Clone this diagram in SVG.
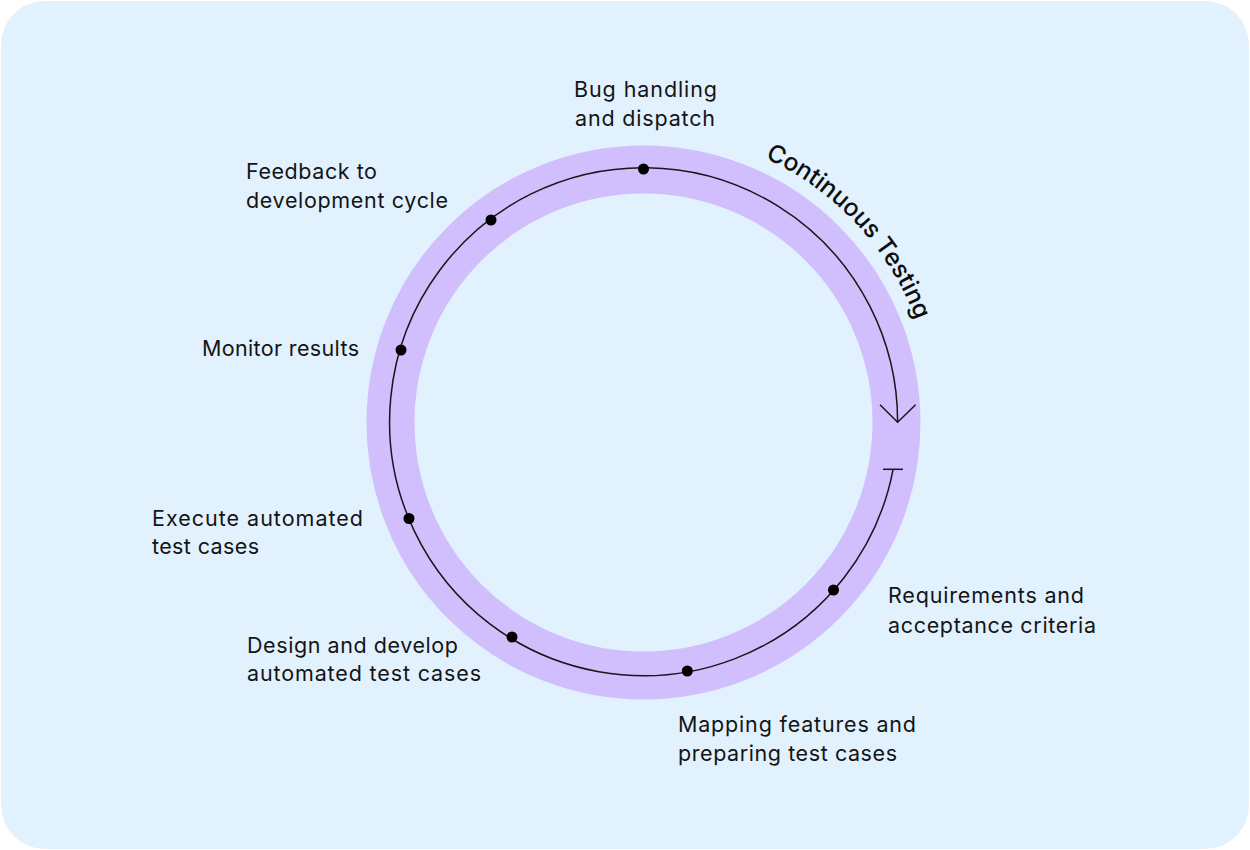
<svg xmlns="http://www.w3.org/2000/svg" width="1250" height="850" viewBox="0 0 1250 850">
<defs>
<style>
.lbl{font-family:Inter,"Noto Sans","Liberation Sans",sans-serif;font-size:21.5px;fill:#141414;}
.title{font-family:Inter,"Noto Sans","Liberation Sans",sans-serif;font-size:24.5px;font-weight:500;fill:#0d0d0d;}
.dot{fill:#000;}
.ln{fill:none;stroke:#1c1418;stroke-width:1.5;}
</style>
<path id="titleArc" d="M 728.8 144.3 A 291 291 0 0 1 927.1 357.3"/>
</defs>
<rect x="0" y="0" width="1250" height="850" fill="#ffffff"/>
<rect x="1" y="1" width="1248" height="848" rx="44" ry="44" fill="#e2f1fe"/>
<g id="ring">
<circle cx="643.5" cy="422.5" r="253" fill="none" stroke="#d1bffd" stroke-width="48"/>
</g>
<g id="title">
<text class="title"><textPath href="#titleArc" startOffset="50%" text-anchor="middle">Continuous Testing</textPath></text>
</g>
<g id="connectors">
<path class="ln" d="M 893.1 469.3 A 254 254 0 1 1 897.6 422.5"/>
<line class="ln" x1="883" y1="469.3" x2="903" y2="469.3"/>
<polyline class="ln" points="880,404.7 897.6,422.3 915.6,404.7"/>
</g>
<g id="node-bug">
<circle class="dot" cx="643.5" cy="169" r="5.5"/>
<text class="lbl" x="574" y="97" textLength="143" lengthAdjust="spacing">Bug handling</text>
<text class="lbl" x="575" y="126" textLength="140" lengthAdjust="spacing">and dispatch</text>
</g>
<g id="node-feedback">
<circle class="dot" cx="491" cy="220" r="5.5"/>
<text class="lbl" x="246" y="179" textLength="131" lengthAdjust="spacing">Feedback to</text>
<text class="lbl" x="246" y="207.5" textLength="202" lengthAdjust="spacing">development cycle</text>
</g>
<g id="node-monitor">
<circle class="dot" cx="401" cy="350" r="5.5"/>
<text class="lbl" x="202" y="356" textLength="157" lengthAdjust="spacing">Monitor results</text>
</g>
<g id="node-execute">
<circle class="dot" cx="409" cy="518.5" r="5.5"/>
<text class="lbl" x="152" y="526" textLength="211" lengthAdjust="spacing">Execute automated</text>
<text class="lbl" x="152" y="554.3" textLength="107" lengthAdjust="spacing">test cases</text>
</g>
<g id="node-design">
<circle class="dot" cx="512" cy="637" r="5.5"/>
<text class="lbl" x="247" y="652.5" textLength="211" lengthAdjust="spacing">Design and develop</text>
<text class="lbl" x="247" y="681" textLength="234" lengthAdjust="spacing">automated test cases</text>
</g>
<g id="node-mapping">
<circle class="dot" cx="687.3" cy="671" r="5.5"/>
<text class="lbl" x="678" y="732.3" textLength="238" lengthAdjust="spacing">Mapping features and</text>
<text class="lbl" x="678" y="760.7" textLength="219" lengthAdjust="spacing">preparing test cases</text>
</g>
<g id="node-requirements">
<circle class="dot" cx="833.5" cy="590" r="5.5"/>
<text class="lbl" x="888" y="603.3" textLength="196" lengthAdjust="spacing">Requirements and</text>
<text class="lbl" x="888" y="632.7" textLength="208" lengthAdjust="spacing">acceptance criteria</text>
</g>
</svg>
